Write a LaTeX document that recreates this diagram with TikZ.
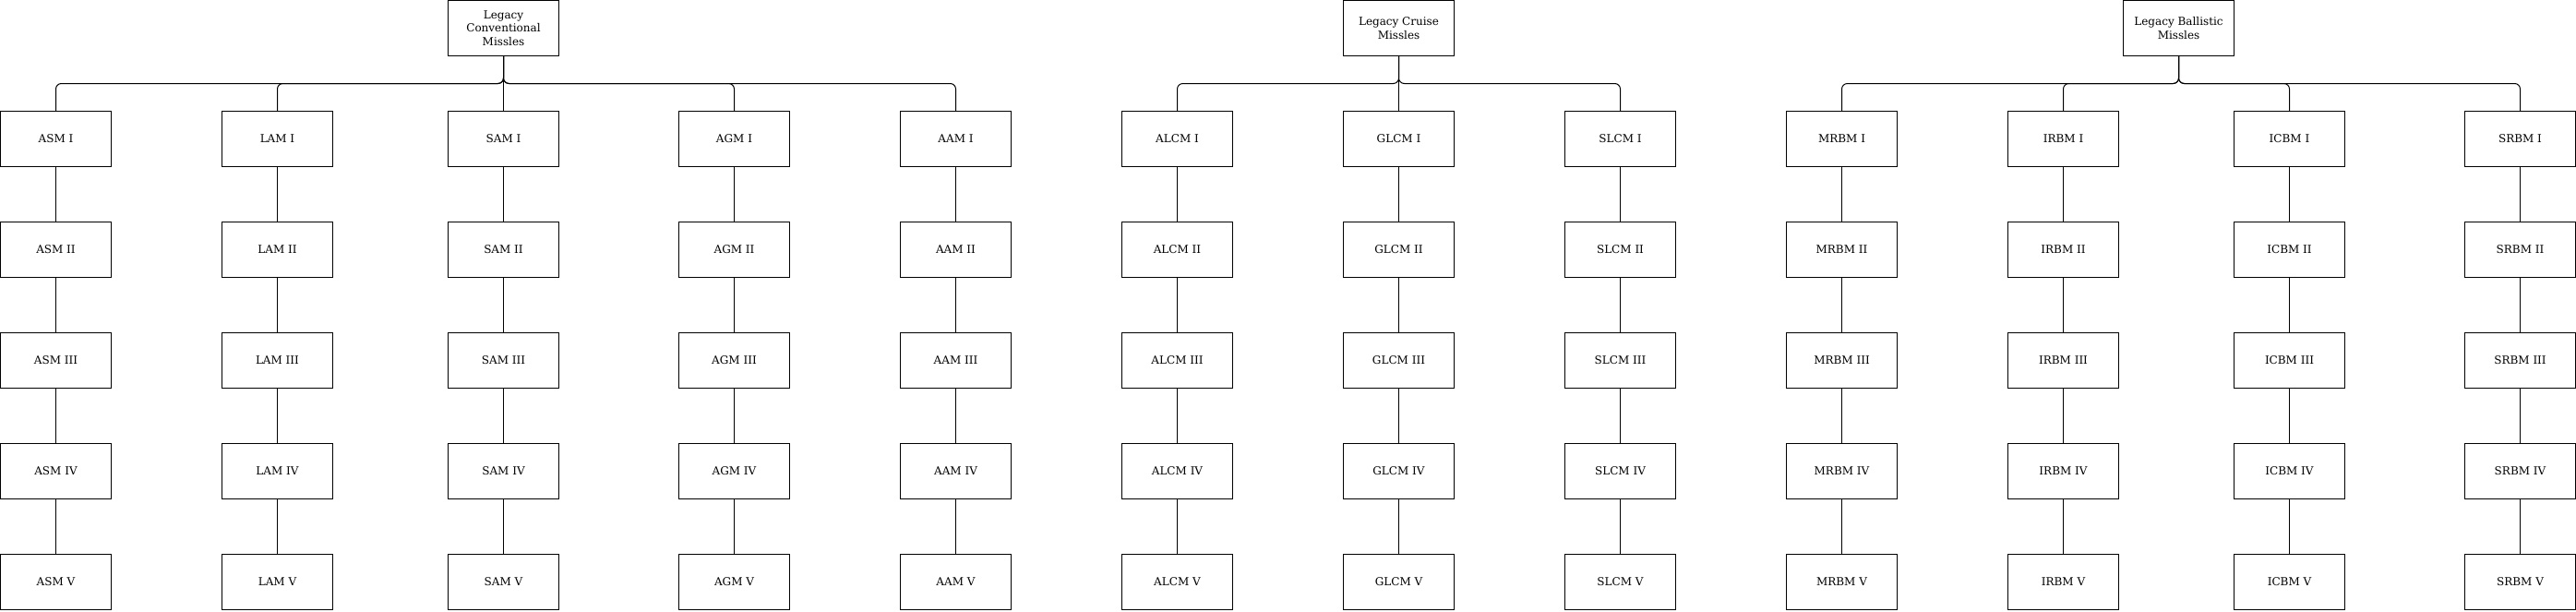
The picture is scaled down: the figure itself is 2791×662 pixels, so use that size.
\documentclass[tikz,border=0pt]{standalone}
\usepackage{fontspec}
\setmainfont{DejaVu Serif}
\begin{document}
\begin{tikzpicture}[x=1pt,y=-1pt,
  box/.style={draw, line width=1pt, minimum width=120pt, minimum height=60pt, inner sep=0pt, align=center, font=\fontsize{12}{14.4}\selectfont},
  link/.style={line width=1pt},
  branch/.style={line width=1pt, rounded corners=6pt}]
\useasboundingbox (0,0) rectangle (2791,662);
\fill[white] (0,0) rectangle (2791,662);
% heads
\node[box] (conv) at (545.5,30.5) {Legacy\\Conventional\\Missles};
\node[box] (cruise) at (1515.5,30.5) {Legacy Cruise\\Missles};
\node[box] (ball) at (2360.5,30.5) {Legacy Ballistic\\Missles};
\coordinate (bus) at (0,90.5);
% columns
\foreach \pre/\xl in {ASM/0,LAM/240,SAM/485,AGM/735,AAM/975,ALCM/1215,GLCM/1455,SLCM/1695,MRBM/1935,IRBM/2175,ICBM/2420,SRBM/2670}{
  \foreach \r/\rn in {1/I,2/II,3/III,4/IV,5/V}{
    \node[box] (\pre\r) at ({\xl+60.5},{30.5+120*\r}) {\pre\ \rn};
  }
  \foreach \a/\b in {1/2,2/3,3/4,4/5}{
    \draw[link] (\pre\a) -- (\pre\b);
  }
}
% branches
\foreach \c in {ASM,LAM,SAM,AGM,AAM}{
  \draw[branch] (conv.south) |- (bus -| \c1.north) -- (\c1.north);
}
\foreach \c in {ALCM,GLCM,SLCM}{
  \draw[branch] (cruise.south) |- (bus -| \c1.north) -- (\c1.north);
}
\foreach \c in {MRBM,IRBM,ICBM,SRBM}{
  \draw[branch] (ball.south) |- (bus -| \c1.north) -- (\c1.north);
}
\end{tikzpicture}
\end{document}
